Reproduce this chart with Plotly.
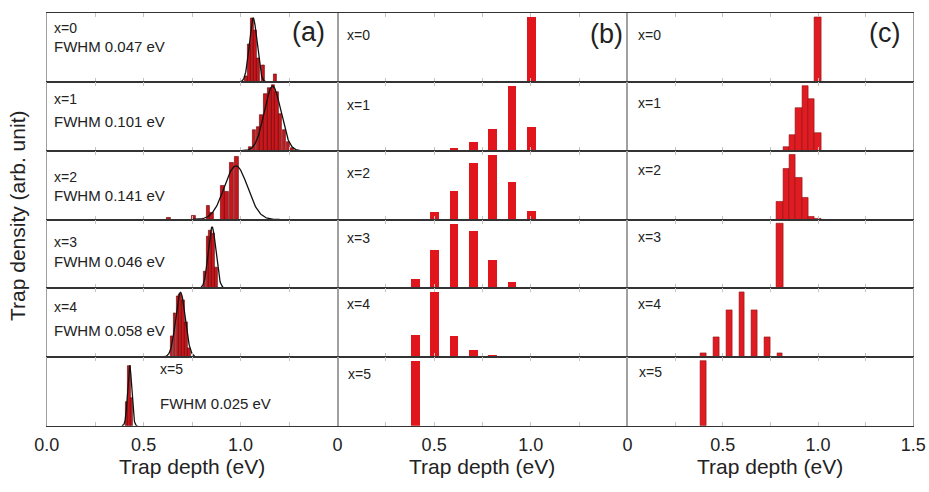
import numpy as np
import plotly.graph_objects as go

W, H = 929, 492
FONT = "Liberation Sans, Arial, Helvetica, sans-serif"

# ---------------- data ----------------
row_labels = ["x=0", "x=1", "x=2", "x=3", "x=4", "x=5"]
fwhm_labels = ["FWHM 0.047 eV", "FWHM 0.101 eV", "FWHM 0.141 eV",
               "FWHM 0.046 eV", "FWHM 0.058 eV", "FWHM 0.025 eV"]

# Panel (a): simulated trap-depth histograms (energy eV, relative height)
a0_e = [1.03, 1.045, 1.06, 1.075, 1.09, 1.115, 1.18]
a0_h = [0.08, 0.55, 0.93, 0.75, 0.35, 0.24, 0.11]
a1_e = [1.05, 1.07, 1.09, 1.11, 1.13, 1.15, 1.168, 1.187, 1.205, 1.225, 1.245, 1.265]
a1_h = [0.05, 0.30, 0.35, 0.52, 0.82, 0.92, 0.96, 0.85, 0.53, 0.30, 0.12, 0.04]
a2_e = [0.63, 0.76, 0.833, 0.853, 0.908, 0.93, 0.955, 0.98]
a2_h = [0.02, 0.05, 0.20, 0.10, 0.49, 0.41, 0.82, 0.91]
a3_e = [0.815, 0.83, 0.845, 0.86, 0.875]
a3_h = [0.25, 0.75, 0.84, 0.80, 0.30]
a4_e = [0.645, 0.66, 0.675, 0.69, 0.705, 0.72, 0.735]
a4_h = [0.30, 0.64, 0.88, 0.92, 0.83, 0.50, 0.12]
a5_e = [0.412, 0.425, 0.438]
a5_h = [0.35, 0.87, 0.40]
a_bar_width = [0.014, 0.018, 0.02, 0.014, 0.014, 0.012]

# Panel (a): Gaussian fits (centre eV, FWHM eV, peak height)
a_fit_center = [1.065, 1.165, 0.976, 0.853, 0.690, 0.428]
a_fit_fwhm = [0.047, 0.101, 0.141, 0.046, 0.058, 0.025]
a_fit_amp = [0.93, 0.94, 0.78, 0.89, 0.94, 0.88]

# Panel (b)
b_e = [0.4, 0.5, 0.6, 0.7, 0.8, 0.9, 1.0]
b_x0 = [0, 0, 0, 0, 0, 0, 1.0]
b_x1 = [0, 0, 0.04, 0.14, 0.34, 1.0, 0.37]
b_x2 = [0.01, 0.12, 0.45, 0.88, 1.0, 0.59, 0.14]
b_x3 = [0.15, 0.60, 1.0, 0.89, 0.44, 0.11, 0.01]
b_x4 = [0.34, 1.0, 0.32, 0.10, 0.02, 0.005, 0]
b_x5 = [1.0, 0, 0, 0, 0, 0, 0]

# Panel (c)
c_e_hi = [0.8, 0.8333, 0.8667, 0.9, 0.9333, 0.9667, 1.0]
c_x0 = [0, 0, 0, 0, 0, 0, 1.0]
c_x1 = [0, 0.06, 0.25, 0.66, 1.0, 0.80, 0.27]
c_x2 = [0.27, 0.78, 1.0, 0.64, 0.34, 0.05, 0.015]
c_x3 = [1.0, 0, 0, 0, 0, 0, 0]
c_e_lo = [0.4, 0.4667, 0.5333, 0.6, 0.6667, 0.7333, 0.8]
c_x4 = [0.06, 0.30, 0.73, 1.0, 0.73, 0.30, 0.06]
c_x5 = [1.0, 0, 0, 0, 0, 0, 0]

tick_vals = [0, 0.25, 0.5, 0.75, 1.0, 1.25, 1.5]
tick_text_a = ["0.0", "", "0.5", "", "1.0", "", ""]
tick_text_b = ["0", "", "0.5", "", "1.0", "", ""]
tick_text_c = ["0", "", "0.5", "", "1.0", "", "1.5"]

# ---------------- layout geometry (pixels) ----------------
col_px = [(46.7, 337.5), (337.5, 627.4), (627.4, 913.3)]
top_px, bot_px = 13.3, 425.7
row_h = (bot_px - top_px) / 6


def nonzero(xs, ys):
    pairs = [(x, y) for x, y in zip(xs, ys) if y > 0]
    return [p[0] for p in pairs], [p[1] for p in pairs]


fig = go.Figure()
layout = dict(width=W, height=H, margin=dict(l=0, r=0, t=0, b=0, autoexpand=False),
              autosize=False, template="none",
              paper_bgcolor="white", plot_bgcolor="white", showlegend=False,
              font=dict(family=FONT, color="#222"))

a_e = [a0_e, a1_e, a2_e, a3_e, a4_e, a5_e]
a_h = [a0_h, a1_h, a2_h, a3_h, a4_h, a5_h]
b_h = [b_x0, b_x1, b_x2, b_x3, b_x4, b_x5]
c_h = [c_x0, c_x1, c_x2, c_x3, c_x4, c_x5]
c_e = [c_e_hi, c_e_hi, c_e_hi, c_e_hi, c_e_lo, c_e_lo]
c_w = [0.033, 0.033, 0.033, 0.033, 0.03, 0.033]
tick_texts = [tick_text_a, tick_text_b, tick_text_c]

for r in range(6):
    y_top = top_px + r * row_h
    y_bot = y_top + row_h
    for c in range(3):
        k = r * 3 + c + 1
        sfx = "" if k == 1 else str(k)
        x0, x1 = col_px[c]
        layout["xaxis" + sfx] = dict(
            domain=[x0 / W, x1 / W], range=[0, 1.5], anchor="y" + sfx, automargin=False,
            showline=True, linecolor="#333", linewidth=1, mirror="allticks",
            ticks="inside", ticklen=4, tickcolor="#c4c4c4", tickwidth=1,
            tickvals=tick_vals, ticktext=tick_texts[c], ticklabelstandoff=3,
            showticklabels=(r == 5), tickfont=dict(size=18, family=FONT, color="#222"),
            showgrid=False, zeroline=False)
        layout["yaxis" + sfx] = dict(
            domain=[1 - y_bot / H, 1 - y_top / H], automargin=False,
            range=[0, 1.0] if c == 0 else [0, 1.065], anchor="x" + sfx,
            showline=True, linecolor="#a0a0a0", linewidth=1, mirror=True,
            ticks="", showticklabels=False, showgrid=False, zeroline=False)
        xa, ya = "x" + sfx, "y" + sfx
        if c == 0:
            fig.add_trace(go.Bar(x=a_e[r], y=a_h[r], width=a_bar_width[r],
                                 marker=dict(color="#c8161d", line=dict(color="#5e0000", width=0.6)),
                                 xaxis=xa, yaxis=ya))
            cen, fw, amp = a_fit_center[r], a_fit_fwhm[r], a_fit_amp[r]
            xs = np.linspace(cen - 1.6 * fw, cen + 1.6 * fw, 120)
            ys = amp * np.exp(-4 * np.log(2) * (xs - cen) ** 2 / fw ** 2)
            fig.add_trace(go.Scatter(x=xs, y=ys, mode="lines",
                                     line=dict(color="#111", width=1.3),
                                     xaxis=xa, yaxis=ya))
        elif c == 1:
            bx, by = nonzero(b_e, b_h[r])
            fig.add_trace(go.Bar(x=bx, y=by, width=0.045,
                                 marker=dict(color="#e0161c", line=dict(width=0)),
                                 xaxis=xa, yaxis=ya))
        else:
            cx_, cy_ = nonzero(c_e[r], c_h[r])
            fig.add_trace(go.Bar(x=cx_, y=cy_, width=c_w[r],
                                 marker=dict(color="#e01b22", line=dict(color="#8b1010", width=0.6)),
                                 xaxis=xa, yaxis=ya))

layout["bargap"] = 0
fig.update_layout(**layout)

ann = []


def px_ann(text, x, y, size, xanchor="left", yanchor="middle", angle=0):
    ann.append(dict(text=text, x=x / W, y=1 - y / H, xref="paper", yref="paper",
                    xanchor=xanchor, yanchor=yanchor, showarrow=False, textangle=angle,
                    borderpad=0, font=dict(size=size, family=FONT, color="#222")))


# panel (a) labels
a_lab_pos = [(52.7, 28.3, 46), (52.7, 99.3, 121.7), (52.7, 176.7, 195),
             (52.7, 241.7, 261.7), (52.7, 306.7, 330), (159, 369.3, 403.3)]
for r, (lx, ly1, ly2) in enumerate(a_lab_pos):
    px_ann(row_labels[r], lx, ly1, 14)
    px_ann(fwhm_labels[r], lx, ly2, 15)

b_lab_y = [35, 105, 173.3, 238.3, 304, 374]
for r, ly in enumerate(b_lab_y):
    px_ann(row_labels[r], 346 if r < 5 else 347.3, ly, 14)
c_lab_y = [35, 103.3, 170, 236.7, 304, 372.3]
for r, ly in enumerate(c_lab_y):
    px_ann(row_labels[r], 636.7 if r < 5 else 638.3, ly, 14)

px_ann("(a)", 308, 32, 27, xanchor="center")
px_ann("(b)", 606, 34, 27, xanchor="center")
px_ann("(c)", 884, 33, 27, xanchor="center")

for c in range(3):
    cx = (col_px[c][0] + col_px[c][1]) / 2
    px_ann("Trap depth (eV)", cx, 466, 21, xanchor="center")
px_ann("Trap density (arb. unit)", 18, 216, 21, xanchor="center", angle=-90)

fig.update_layout(annotations=ann)
fig.write_html("out.html")
